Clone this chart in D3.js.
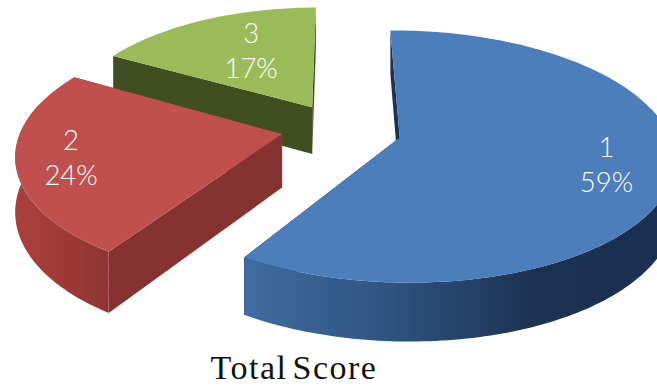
<!DOCTYPE html>
<html>
<head>
<meta charset="utf-8">
<script src="https://cdn.jsdelivr.net/npm/d3@7/dist/d3.min.js"></script>
<style>
  html, body { margin: 0; padding: 0; background: #fff; overflow: hidden; }
  svg { display: block; }
</style>
</head>
<body>
<svg id="chart" width="657" height="387"></svg>
<script>
// Data
const categories = ["1", "2", "3"];
const shares = [59, 24, 17];
const chartTitle = "Total Score";

// Colours per slice
const topColors = ["#4c7ebc", "#c0504d", "#9bbb59"];
const radialWallColors = ["#1c3252", "#863230", "#3f4f20"];
const outerWallStops = [
  ["#3f6c9f", "#2f5482", "#1c3252", "#1b3050"],
  ["#aa403e", "#a23c3a", "#983936", "#8f3533"],
  ["#3f4f20", "#3f4f20", "#3f4f20", "#3f4f20"]
];

// Per-slice geometry tweaks: horizontal stretch, pixel shift, wall height, turn in degrees
const stretchX = [1.05, 1.02, 0.99];
const sliceShift = [[5, -2], [-1, -5], [2, -2]];
const wallHeights = [49.5, 53, 48];
const sliceTurn = [0, 1.5, 0.5];

// Label nudges (px) from the default anchor on each slice
const labelNudge = [[12, 4], [-21, 4], [19, 10]];

// Disc projection: unit-disc coordinates go through a perspective divide, then scales
const perspective = 0.15;
const explode = 0.225;
const firstAngle = -0.5 * Math.PI / 180;
const xScale = d3.scaleLinear().domain([-1, 1]).range([339 - 255, 339 + 255]);
const yScale = d3.scaleLinear().domain([-1, 1]).range([132 + 121, 132 - 121]);

const svg = d3.select("#chart");
const defs = svg.append("defs");
const lineGen = d3.line();

function project(X, Y, i, drop) {
  const s = 1 / (1 + perspective * Y);
  return [
    xScale(X * s) + sliceShift[i][0],
    yScale(Y * s) + sliceShift[i][1] + (drop ? wallHeights[i] * s : 0)
  ];
}

const slices = d3.pie().value(d => d).sort(null)
  .startAngle(firstAngle).endAngle(firstAngle + 2 * Math.PI)(shares);

function unitPoint(slice, i, angle, r) {
  const mid = (slice.startAngle + slice.endAngle) / 2;
  const a = angle + sliceTurn[i] * Math.PI / 180;
  return [
    explode * Math.sin(mid) + stretchX[i] * r * Math.sin(a),
    explode * Math.cos(mid) + r * Math.cos(a)
  ];
}

function arcAngles(slice) {
  const n = Math.ceil((slice.endAngle - slice.startAngle) / 0.02);
  return d3.range(n + 1).map(k => slice.startAngle + (slice.endAngle - slice.startAngle) * k / n);
}

const groups = svg.selectAll("g.slice")
  .data(slices.map((s, i) => ({ s, i })).reverse())
  .join("g").attr("class", "slice");

groups.each(function ({ s, i }) {
  const g = d3.select(this);
  const apex = unitPoint(s, i, 0, 0);
  const rim = arcAngles(s).map(a => unitPoint(s, i, a, 1));

  const gradId = "wall-" + i;
  const grad = defs.append("linearGradient").attr("id", gradId);
  outerWallStops[i].forEach((c, k, all) => grad.append("stop")
    .attr("offset", k / (all.length - 1)).attr("stop-color", c));

  // Flat walls along the two straight cuts
  [rim[0], rim[rim.length - 1]].forEach(corner => {
    const wall = [
      project(apex[0], apex[1], i, false),
      project(corner[0], corner[1], i, false),
      project(corner[0], corner[1], i, true),
      project(apex[0], apex[1], i, true)
    ];
    g.append("path").attr("d", lineGen(wall) + "Z").attr("fill", radialWallColors[i]);
  });

  // Curved outer wall, front part only
  const front = rim.filter(p => p[1] < explode * Math.cos((s.startAngle + s.endAngle) / 2) + 0.25);
  const wallPath = front.map(p => project(p[0], p[1], i, false))
    .concat(front.slice().reverse().map(p => project(p[0], p[1], i, true)));
  g.append("path").attr("d", lineGen(wallPath) + "Z").attr("fill", `url(#${gradId})`);

  // Top face
  const face = [project(apex[0], apex[1], i, false)]
    .concat(rim.map(p => project(p[0], p[1], i, false)));
  g.append("path").attr("d", lineGen(face) + "Z").attr("fill", topColors[i]);
});

// Category and percentage labels
const labels = svg.selectAll("g.label").data(slices).join("g").attr("class", "label")
  .attr("font-family", "Lato, 'Open Sans', sans-serif")
  .attr("font-weight", 300)
  .attr("font-size", 27.5)
  .attr("fill", "#ffffff")
  .attr("text-anchor", "middle")
  .attr("transform", (s, i) => {
    const mid = (s.startAngle + s.endAngle) / 2;
    const p = unitPoint(s, i, mid, 0.72);
    const q = project(p[0], p[1], i, false);
    return `translate(${q[0] + labelNudge[i][0]},${q[1] + labelNudge[i][1]})`;
  });
labels.append("text").attr("y", -9).text((s, i) => categories[i]);
labels.append("text").attr("y", 26).text((s, i) => shares[i] + "%");

// Title under the pie
svg.append("text")
  .attr("x", 294).attr("y", 379.2)
  .attr("text-anchor", "middle")
  .attr("font-family", "'Liberation Serif', serif")
  .attr("font-size", 34)
  .attr("letter-spacing", 1.5)
  .attr("word-spacing", -5)
  .attr("fill", "#111")
  .text(chartTitle);
</script>
</body>
</html>
